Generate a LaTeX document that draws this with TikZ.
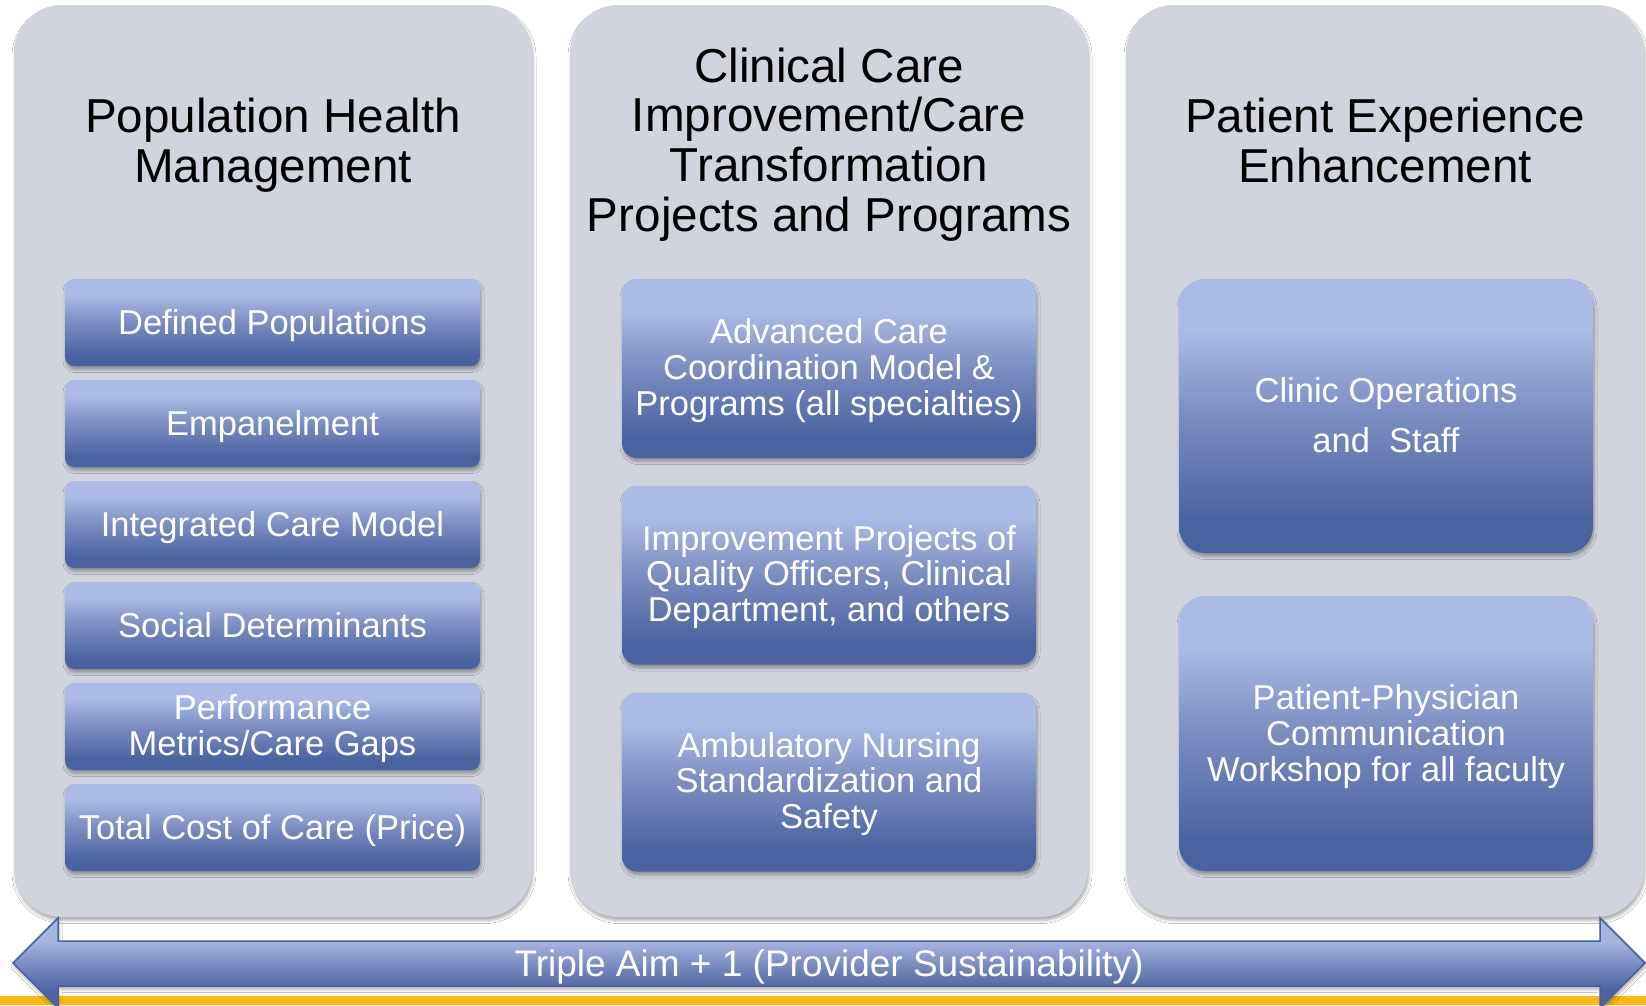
\documentclass[tikz,border=0pt]{standalone}
\usepackage{fontspec}
\setmainfont{Liberation Sans}
\usetikzlibrary{shadows.blur}

\definecolor{panelgray}{RGB}{209,212,221}
\definecolor{tileTop}{RGB}{171,187,230}
\definecolor{tileMid}{RGB}{122,141,193}
\definecolor{tileBot}{RGB}{73,99,160}
\definecolor{arrowTop}{RGB}{166,180,224}
\definecolor{arrowMid}{RGB}{124,142,194}
\definecolor{arrowBot}{RGB}{76,101,161}
\definecolor{arrowEdge}{RGB}{72,97,157}
\definecolor{goldbar}{RGB}{253,184,19}

% vertical blends: the middle 25bp..75bp band is mapped onto the shape
\pgfdeclareverticalshading{tilegrad}{100bp}{color(0bp)=(tileBot); color(25bp)=(tileBot); color(31bp)=(tileBot); color(50bp)=(tileMid); color(66bp)=(tileTop); color(75bp)=(tileTop); color(100bp)=(tileTop)}
\pgfdeclareverticalshading{arrowgrad}{100bp}{color(0bp)=(arrowBot); color(25bp)=(arrowBot); color(35bp)=(arrowBot); color(50bp)=(arrowMid); color(62bp)=(arrowTop); color(75bp)=(arrowTop); color(100bp)=(arrowTop)}

\newcommand\hdrfont{\fontsize{47.6pt}{49.6pt}\selectfont}
\newcommand\tilefont{\fontsize{34.5pt}{35.8pt}\selectfont}
\newcommand\widetilefont{\fontsize{34.5pt}{50pt}\selectfont}
\newcommand\aimfont{\fontsize{37pt}{40pt}\selectfont}
% invisible strut with the font's full ascent and descent, so every
% text block is centred on its line boxes rather than on its ink
\newcommand\linestrut{\vrule width 0pt height 0.905em depth 0.212em\relax}

\tikzset{
  softshadow/.style={blur shadow={shadow xshift=1pt, shadow yshift=-3.5pt,
      shadow blur radius=3pt, shadow opacity=32}},
  struts/.style={execute at begin node=\linestrut, execute at end node=\linestrut},
  % fixed depth for multi-line labels, which sets them slightly lower
  dropped/.style={text depth=#1},
  panel/.style={fill=panelgray, rounded corners=48pt, minimum width=518pt,
      minimum height=912pt, inner sep=0pt, softshadow},
  heading/.style={align=center, text=black, font=\hdrfont, inner sep=0pt, struts},
  tile/.style={shade, shading=tilegrad, text=white, align=center,
      inner sep=0pt, font=\tilefont, softshadow, struts},
  smalltile/.style={tile, rounded corners=9pt, minimum width=415pt, minimum height=87pt},
  midtile/.style={tile, rounded corners=15pt, minimum width=414pt, minimum height=179pt, dropped=3.3pt},
  bigtile/.style={tile, rounded corners=26pt, minimum width=414pt, minimum height=274pt, dropped=1.3pt},
  aimarrow/.style={shade, shading=arrowgrad, draw=arrowEdge, line width=1.5pt,
      line join=miter, softshadow},
}

\begin{document}
\begin{tikzpicture}[x=1pt, y=-1pt]
\path[use as bounding box] (0,0) rectangle (1646,1005);
\clip (0,0) rectangle (1646,1005);
\fill[white] (0,0) rectangle (1646,1005);

% three column panels
\node[panel] (popPanel)  at (273,461)  {};
\node[panel] (carePanel) at (829,461)  {};
\node[panel] (expPanel)  at (1385,461) {};

% column headings
\node[heading] (popHead)  at (273,145.5)  {Population Health\\Management};
\node[heading] (careHead) at (829,144.5)  {Clinical Care\\Improvement/Care\\Transformation\\Projects and Programs};
\node[heading] (expHead)  at (1385,145.5) {Patient Experience\\Enhancement};

% population health items
\node[smalltile] (defined)  at (272.5,322.5) {Defined Populations};
\node[smalltile] (empanel)  at (272.5,423.5) {Empanelment};
\node[smalltile] (integr)   at (272.5,524.5) {Integrated Care Model};
\node[smalltile] (social)   at (272.5,625.5) {Social Determinants};
\node[smalltile, dropped=2.3pt] (perform) at (272.5,726.5) {Performance\\Metrics/Care Gaps};
\node[smalltile] (totcost)  at (272.5,827.5) {Total Cost of Care (Price)};

% clinical care items
\node[midtile] (advanced) at (829,368.5) {Advanced Care\\Coordination Model \&\\Programs (all specialties)};
\node[midtile] (improve)  at (829,575)   {Improvement Projects of\\Quality Officers, Clinical\\Department, and others};
\node[midtile] (nursing)  at (829,782)   {Ambulatory Nursing\\Standardization and\\Safety};

% patient experience items
\node[bigtile, font=\widetilefont] (clinic) at (1386,416) {Clinic Operations\\and\ \ Staff};
\node[bigtile, minimum height=275pt] (workshop) at (1386,733.5) {Patient-Physician\\Communication\\Workshop for all faculty};

% gold rule along the bottom edge
\fill[goldbar] (0,996) rectangle (1646,1005);

% double-headed band
\path[aimarrow] (13,963) -- (58,918) -- (58,941) -- (1600,941) -- (1600,918)
  -- (1645,963) -- (1600,1008) -- (1600,986) -- (58,986) -- (58,1008) -- cycle;
\node[text=white, font=\aimfont, inner sep=0pt, struts] (aim) at (829,963.5)
  {Triple Aim + 1 (Provider Sustainability)};
\end{tikzpicture}
\end{document}
